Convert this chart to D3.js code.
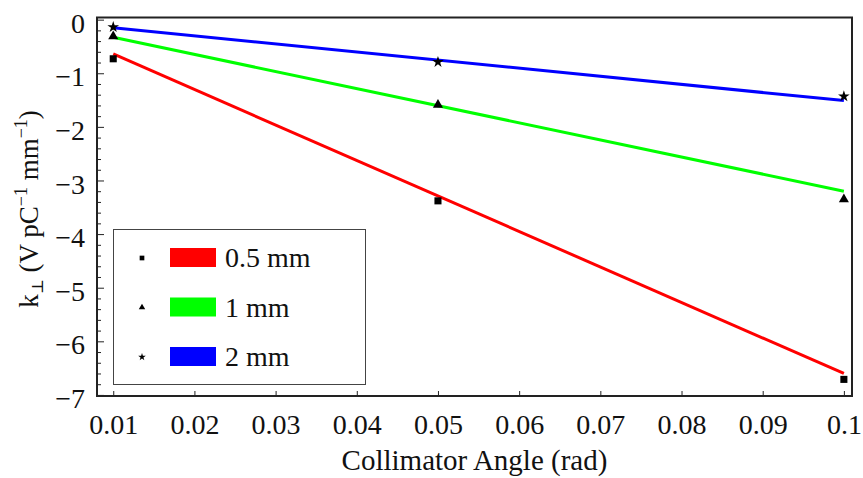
<!DOCTYPE html>
<html>
<head>
<meta charset="utf-8">
<style>
  body { margin: 0; background: #fff; }
</style>
</head>
<body>
<svg id="chart"></svg>
<script src="https://d3js.org/d3.v7.min.js"></script>
<script>
'use strict';

// ========== data
const angles = [0.01, 0.05, 0.1];
const labels = ['0.5 mm', '1 mm', '2 mm'];
const colors = ['#ff0000', '#00ff00', '#0000ff'];
const k_05mm = [-0.73, -3.38, -6.71];
const k_1mm = [-0.31, -1.59, -3.35];
const k_2mm = [-0.14, -0.79, -1.43];
// fitted lines, value at first and last angle
const fitAngles = [0.01, 0.1];
const fit_05mm = [-0.64, -6.60];
const fit_1mm = [-0.33, -3.20];
const fit_2mm = [-0.15, -1.51];
const xTicks = [0.01, 0.02, 0.03, 0.04, 0.05, 0.06, 0.07, 0.08, 0.09, 0.1];
const yTicks = [0, -1, -2, -3, -4, -5, -6, -7];

const series = [
  { name: labels[0], color: colors[0], pts: k_05mm, fit: fit_05mm, sym: d3.symbolSquare, size: 50, lsize: 22 },
  { name: labels[1], color: colors[1], pts: k_1mm, fit: fit_1mm, sym: d3.symbolTriangle, size: 44, lsize: 18 },
  { name: labels[2], color: colors[2], pts: k_2mm, fit: fit_2mm, sym: d3.symbolStar, size: 42, lsize: 18 }
];

const W = 863, H = 478;
const FONT = '"Liberation Serif", "Times New Roman", Times, "DejaVu Serif", serif';
const frame = { left: 97, right: 852, top: 17.5, bottom: 396 };

const svg = d3.select('#chart').attr('width', W).attr('height', H)
  .attr('font-family', FONT);

const x = d3.scaleLinear().domain([0.008, 0.101]).range([frame.left, frame.right]);
const y = d3.scaleLinear().domain([-7.02, 0.04]).range([frame.bottom, frame.top]);

// ---- axes (ticks point inward)
const fmtMinus = d => (d < 0 ? '\u2212' + Math.abs(d) : String(d));

const xAxis = svg.append('g')
  .attr('transform', `translate(0,${frame.bottom})`)
  .call(d3.axisBottom(x).tickValues(xTicks).tickSizeInner(-5).tickSizeOuter(0)
    .tickFormat(d => String(+d.toFixed(2))));
xAxis.attr('font-family', FONT);
xAxis.select('.domain').remove();
xAxis.selectAll('line').attr('stroke', '#222');
xAxis.selectAll('text').attr('y', 18).attr('font-size', 28).attr('fill', '#111');

const yMinor = d3.range(-70, 1, 2).map(v => v / 10).filter(v => !yTicks.includes(v));
const yMinorAxis = svg.append('g')
  .attr('transform', `translate(${frame.left},0)`)
  .call(d3.axisLeft(y).tickValues(yMinor).tickSizeInner(-4).tickSizeOuter(0).tickFormat(''));
yMinorAxis.select('.domain').remove();
yMinorAxis.selectAll('line').attr('stroke', '#222');

const yAxis = svg.append('g')
  .attr('transform', `translate(${frame.left},0)`)
  .call(d3.axisLeft(y).tickValues(yTicks).tickSizeInner(-7).tickSizeOuter(0).tickFormat(fmtMinus));
yAxis.attr('font-family', FONT);
yAxis.select('.domain').remove();
yAxis.selectAll('line').attr('stroke', '#222');
yAxis.selectAll('text').attr('x', -12).attr('dy', '0.45em').attr('font-size', 28).attr('fill', '#111');

// ---- frame
svg.append('rect')
  .attr('x', frame.left).attr('y', frame.top)
  .attr('width', frame.right - frame.left).attr('height', frame.bottom - frame.top)
  .attr('fill', 'none').attr('stroke', '#222').attr('stroke-width', 2);

// ---- fit lines
const line = d3.line().x((d, i) => x(fitAngles[i])).y(d => y(d));
svg.append('g').selectAll('path')
  .data(series)
  .enter().append('path')
  .attr('d', s => line(s.fit))
  .attr('fill', 'none')
  .attr('stroke', s => s.color)
  .attr('stroke-width', 3);

// ---- data points
series.forEach(s => {
  svg.append('g').selectAll('path')
    .data(s.pts)
    .enter().append('path')
    .attr('transform', (d, i) => `translate(${x(angles[i])},${y(d)})`)
    .attr('d', d3.symbol().type(s.sym).size(s.size))
    .attr('fill', '#000');
});

// ---- legend
const lg = svg.append('g');
lg.append('rect')
  .attr('x', 113.5).attr('y', 229.5).attr('width', 252).attr('height', 155)
  .attr('fill', '#fff').attr('stroke', '#444').attr('stroke-width', 1);
const rowY = d3.scalePoint().domain(labels).range([258, 357]);
series.forEach(s => {
  const ry = rowY(s.name);
  lg.append('path')
    .attr('transform', `translate(142,${ry})`)
    .attr('d', d3.symbol().type(s.sym).size(s.lsize))
    .attr('fill', '#000');
  lg.append('rect')
    .attr('x', 170).attr('y', ry - 10).attr('width', 46).attr('height', 19)
    .attr('fill', s.color);
  lg.append('text')
    .attr('x', 225).attr('y', ry + 9)
    .attr('font-size', 28).attr('fill', '#111')
    .text(s.name);
});

// ---- axis titles
svg.append('text')
  .attr('x', (frame.left + frame.right) / 2).attr('y', 470)
  .attr('text-anchor', 'middle').attr('font-size', 29).attr('fill', '#111')
  .text('Collimator Angle (rad)');

const yt = svg.append('text')
  .attr('transform', 'translate(38,209) rotate(-90)')
  .attr('text-anchor', 'middle').attr('font-size', 27).attr('fill', '#111');
yt.append('tspan').text('k');
yt.append('tspan').attr('font-size', 16).attr('dy', 5).text('\u22a5');
yt.append('tspan').attr('dy', -5).text(' (V pC');
yt.append('tspan').attr('font-size', 18).attr('dy', -11).text('\u22121');
yt.append('tspan').attr('dy', 11).text(' mm');
yt.append('tspan').attr('font-size', 18).attr('dy', -11).text('\u22121');
yt.append('tspan').attr('dy', 11).text(')');
</script>
</body>
</html>
